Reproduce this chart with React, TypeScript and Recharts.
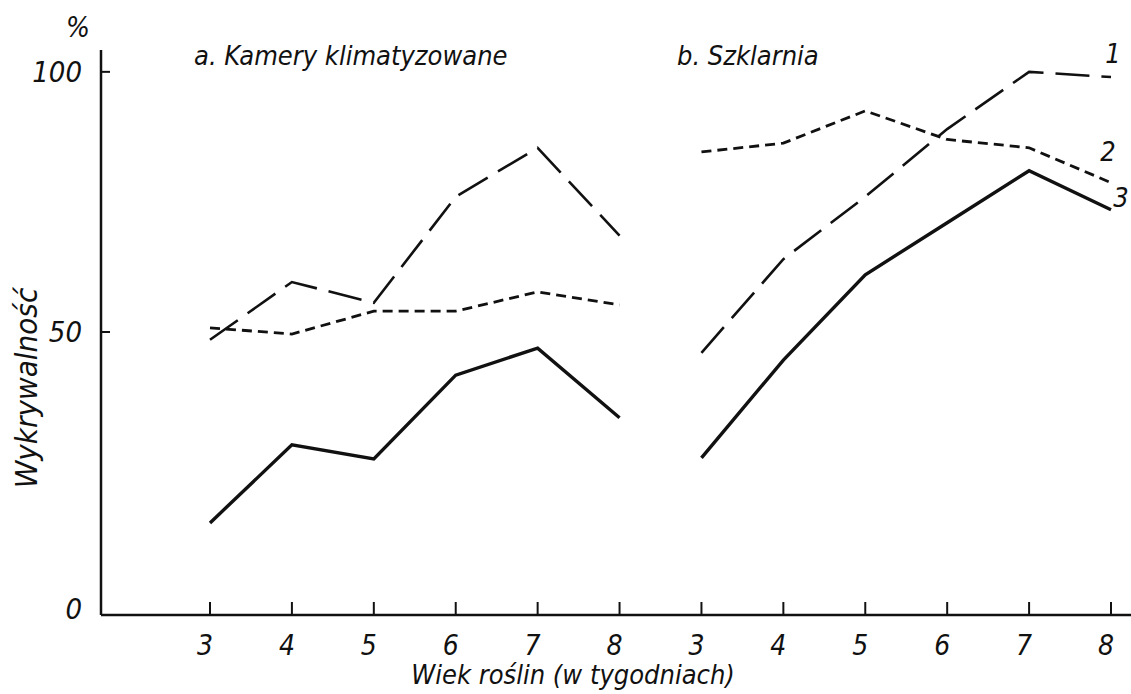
import React from 'react';
import { LineChart, Line, XAxis, YAxis, Label, LabelList } from 'recharts';

const WEEKS = [3, 4, 5, 6, 7, 8];
const PANELS = ['a', 'b'];

// 1 – długie kreski, 2 – krótkie kreski, 3 – linia ciągła
const SERIA1_A = [48.5, 59.6, 55.6, 76, 85.4, 68.5];
const SERIA1_B = [46, 64, 76, 89, 100, 99];
const SERIA2_A = [50.8, 49.6, 54, 54, 57.7, 55.2];
const SERIA2_B = [84.6, 86.3, 92.5, 87, 85.4, 78.7];
const SERIA3_A = [13.3, 28.3, 25.6, 41.7, 46.9, 33.5];
const SERIA3_B = [25.8, 44.6, 61, 71, 81, 73.5];

const Y_MIN = -4.4;
const Y_MAX = 104.2;
const Y_TICKS = [Y_MIN, 50, 100];

const data = PANELS.flatMap((p) =>
  WEEKS.map((w, i) => ({
    key: `${p}-${w}`,
    s1a: p === 'a' ? SERIA1_A[i] : null,
    s1b: p === 'b' ? SERIA1_B[i] : null,
    s2a: p === 'a' ? SERIA2_A[i] : null,
    s2b: p === 'b' ? SERIA2_B[i] : null,
    s3a: p === 'a' ? SERIA3_A[i] : null,
    s3b: p === 'b' ? SERIA3_B[i] : null,
  }))
);

const FONT = '"DejaVu Sans Condensed", "Liberation Sans Narrow", sans-serif';
const INK = '#111';

const XTick = (props: any) => {
  const { x, y, payload } = props;
  const week = String(payload.value).split('-')[1];
  return (
    <g>
      <line x1={x} y1={y} x2={x} y2={y - 13} stroke={INK} strokeWidth={2} />
      <text x={x - 5} y={y + 40} textAnchor="middle" fontFamily={FONT} fontStyle="italic" fontSize={28} fill={INK}>
        {week}
      </text>
    </g>
  );
};

const YTick = (props: any) => {
  const { x, y, payload } = props;
  const isZero = payload.value < 0;
  return (
    <g>
      {!isZero && <line x1={x} y1={y} x2={x + 9} y2={y} stroke={INK} strokeWidth={2} />}
      <text x={x - 19} y={isZero ? y + 4 : y + 10} textAnchor="end" fontFamily={FONT} fontStyle="italic" fontSize={29} fill={INK}>
        {isZero ? '0' : payload.value}
      </text>
    </g>
  );
};

const endLabel = (name: string, dx: number, dy: number) => (props: any) => {
  const { x, y, index } = props;
  if (index !== data.length - 1) return null;
  return (
    <text x={x + dx} y={y + dy} textAnchor="middle" fontFamily={FONT} fontStyle="italic" fontSize={27} fill={INK}>
      {name}
    </text>
  );
};

const overlayText: React.CSSProperties = {
  position: 'absolute',
  fontFamily: FONT,
  fontStyle: 'italic',
  color: INK,
  whiteSpace: 'nowrap',
  lineHeight: 1,
};

export default function App() {
  return (
    <div style={{ position: 'absolute', left: 0, top: 0, width: 1131, height: 694, background: '#fff' }}>
      <LineChart width={1131} height={694} data={data} margin={{ top: 50, right: 0, bottom: 0, left: 0 }}>
        <XAxis
          dataKey="key"
          height={79}
          padding={{ left: 109, right: 20 }}
          axisLine={{ stroke: INK, strokeWidth: 2.5 }}
          tickLine={false}
          tickSize={0}
          tickMargin={0}
          interval={0}
          tick={<XTick />}
        >
          <Label
            content={(p: any) => {
              const vb = p.viewBox;
              return (
                <text x={573} y={vb.y + vb.height - 10} textAnchor="middle" fontFamily={FONT} fontStyle="italic" fontSize={27} fill={INK}>
                  Wiek roślin (w tygodniach)
                </text>
              );
            }}
          />
        </XAxis>
        <YAxis
          width={101}
          domain={[Y_MIN, Y_MAX]}
          ticks={Y_TICKS}
          allowDataOverflow
          axisLine={{ stroke: INK, strokeWidth: 2.5 }}
          tickLine={false}
          tickSize={0}
          tickMargin={0}
          tick={<YTick />}
        >
          <Label
            content={() => (
              <text
                x={0}
                y={0}
                transform="translate(37 388) rotate(-90)"
                textAnchor="middle"
                fontFamily={FONT}
                fontStyle="italic"
                fontSize={31}
                fill={INK}
              >
                Wykrywalność
              </text>
            )}
          />
        </YAxis>

        <Line dataKey="s1a" stroke={INK} strokeWidth={2.6} strokeDasharray="34 12" dot={false} isAnimationActive={false} type="linear" />
        <Line dataKey="s1b" stroke={INK} strokeWidth={2.6} strokeDasharray="34 12" dot={false} isAnimationActive={false} type="linear">
          <LabelList dataKey="s1b" content={endLabel('1', 2, -14)} />
        </Line>
        <Line dataKey="s2a" stroke={INK} strokeWidth={2.8} strokeDasharray="10 6" dot={false} isAnimationActive={false} type="linear" />
        <Line dataKey="s2b" stroke={INK} strokeWidth={2.8} strokeDasharray="10 6" dot={false} isAnimationActive={false} type="linear">
          <LabelList dataKey="s2b" content={endLabel('2', -3, -22)} />
        </Line>
        <Line dataKey="s3a" stroke={INK} strokeWidth={3.4} dot={false} isAnimationActive={false} type="linear" />
        <Line dataKey="s3b" stroke={INK} strokeWidth={3.4} dot={false} isAnimationActive={false} type="linear">
          <LabelList dataKey="s3b" content={endLabel('3', 10, -3)} />
        </Line>
      </LineChart>

      <div style={{ ...overlayText, left: 66, top: 14, fontSize: 28 }}>%</div>
      <div style={{ ...overlayText, left: 194, top: 42, fontSize: 27 }}>a. Kamery klimatyzowane</div>
      <div style={{ ...overlayText, left: 677, top: 42, fontSize: 27 }}>b. Szklarnia</div>
    </div>
  );
}
